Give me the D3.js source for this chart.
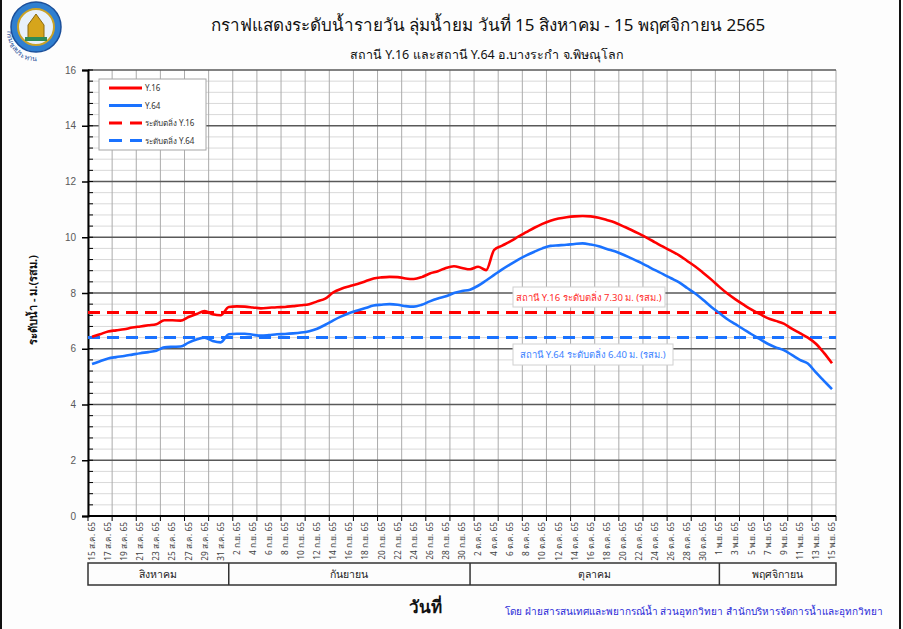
<!DOCTYPE html>
<html>
<head>
<meta charset="utf-8">
<script src="https://cdn.jsdelivr.net/npm/d3@7"></script>
<style>
  body { margin: 0; background: #fff; }
  svg { display: block; font-family: Tahoma, "Noto Sans", "DejaVu Sans", sans-serif; }
</style>
</head>
<body>
<div id="container"></div>
<script>
// Size of the whole picture
const width = 903;
const height = 629;

// Daily water level (m. above MSL), 15 Aug - 15 Nov 2565
const levelY16 = [
  6.43, 6.52, 6.62, 6.66, 6.70, 6.76, 6.80, 6.84, 6.88, 7.02,
  7.02, 7.01, 7.14, 7.25, 7.35, 7.24, 7.20, 7.50, 7.52, 7.51,
  7.48, 7.45, 7.47, 7.49, 7.50, 7.53, 7.56, 7.60, 7.70, 7.80,
  8.02, 8.15, 8.24, 8.32, 8.42, 8.52, 8.56, 8.58, 8.57, 8.52,
  8.50, 8.57, 8.70, 8.78, 8.90, 8.96, 8.90, 8.85, 8.94, 8.82,
  9.55, 9.70, 9.85, 10.02, 10.18, 10.34, 10.48, 10.59, 10.67, 10.72,
  10.75, 10.76, 10.75, 10.70, 10.62, 10.53, 10.40, 10.27, 10.13, 9.98,
  9.82, 9.66, 9.51, 9.35, 9.15, 8.95, 8.72, 8.48, 8.22, 7.98,
  7.77, 7.58, 7.40, 7.25, 7.10, 7.00, 6.90, 6.72, 6.56, 6.40,
  6.18, 5.85, 5.48
];
const levelY64 = [
  5.45, 5.55, 5.65, 5.70, 5.74, 5.79, 5.84, 5.88, 5.93, 6.05,
  6.07, 6.08, 6.22, 6.33, 6.40, 6.28, 6.23, 6.52, 6.54, 6.54,
  6.50, 6.47, 6.49, 6.52, 6.53, 6.55, 6.58, 6.63, 6.72, 6.86,
  7.02, 7.16, 7.28, 7.37, 7.46, 7.55, 7.58, 7.60, 7.58, 7.53,
  7.51, 7.58, 7.70, 7.80, 7.88, 8.00, 8.07, 8.12, 8.26, 8.45,
  8.65, 8.85, 9.03, 9.20, 9.35, 9.48, 9.60, 9.69, 9.71, 9.73,
  9.76, 9.78, 9.74, 9.68, 9.58, 9.50, 9.38, 9.25, 9.12, 8.97,
  8.82, 8.68, 8.53, 8.38, 8.18, 7.98, 7.75, 7.50, 7.28, 7.06,
  6.88, 6.70, 6.52, 6.35, 6.18, 6.05, 5.95, 5.78, 5.60, 5.47,
  5.15, 4.85, 4.55
];

// Bank full levels
const bankY16 = 7.30;
const bankY64 = 6.40;

// Tick labels, one every second day
const tickLabels = [
  "15 ส.ค. 65", "17 ส.ค. 65", "19 ส.ค. 65", "21 ส.ค. 65", "23 ส.ค. 65", "25 ส.ค. 65",
  "27 ส.ค. 65", "29 ส.ค. 65", "31 ส.ค. 65",
  "2 ก.ย. 65", "4 ก.ย. 65", "6 ก.ย. 65", "8 ก.ย. 65", "10 ก.ย. 65", "12 ก.ย. 65",
  "14 ก.ย. 65", "16 ก.ย. 65", "18 ก.ย. 65", "20 ก.ย. 65", "22 ก.ย. 65", "24 ก.ย. 65",
  "26 ก.ย. 65", "28 ก.ย. 65", "30 ก.ย. 65",
  "2 ต.ค. 65", "4 ต.ค. 65", "6 ต.ค. 65", "8 ต.ค. 65", "10 ต.ค. 65", "12 ต.ค. 65",
  "14 ต.ค. 65", "16 ต.ค. 65", "18 ต.ค. 65", "20 ต.ค. 65", "22 ต.ค. 65", "24 ต.ค. 65",
  "26 ต.ค. 65", "28 ต.ค. 65", "30 ต.ค. 65",
  "1 พ.ย. 65", "3 พ.ย. 65", "5 พ.ย. 65", "7 พ.ย. 65", "9 พ.ย. 65", "11 พ.ย. 65",
  "13 พ.ย. 65", "15 พ.ย. 65"
];

// Months shown in the band under the axis, and the day each one starts on
const monthNames = ["สิงหาคม", "กันยายน", "ตุลาคม", "พฤศจิกายน"];
const monthStart = [0, 17, 47, 78];

const yTicks = [0, 2, 4, 6, 8, 10, 12, 14, 16];

const red = "#ff0000";
const blue = "#1a72ff";

const svg = d3.select("#container")
    .append("svg")
    .attr("width", width)
    .attr("height", height);

svg.append("rect")
    .attr("width", width)
    .attr("height", height)
    .attr("fill", "#fdfdfd");

// black frame left and right
svg.append("line").attr("x1", 1).attr("x2", 1).attr("y1", 0).attr("y2", height)
    .attr("stroke", "#111").attr("stroke-width", 2);
svg.append("line").attr("x1", 900).attr("x2", 900).attr("y1", 0).attr("y2", height)
    .attr("stroke", "#111").attr("stroke-width", 2);

// Plot area
const pLeft = 88, pRight = 836, pTop = 70, pBottom = 516;
const days = d3.range(levelY16.length);

const x = d3.scalePoint()
    .domain(days)
    .range([pLeft, pRight])
    .padding(0.5);
const step = x.step();

const y = d3.scaleLinear()
    .domain([0, 16])
    .range([pBottom, pTop]);

svg.append("rect")
    .attr("x", pLeft).attr("y", pTop)
    .attr("width", pRight - pLeft).attr("height", pBottom - pTop)
    .attr("fill", "#fff");

const grid = svg.append("g");

// minor horizontal lines every 0.4 m
grid.selectAll(".minor")
    .data(d3.range(0, 16.01, 0.4).filter(v => Math.abs(v / 2 - Math.round(v / 2)) > 0.01))
    .enter()
    .append("line")
    .attr("x1", pLeft).attr("x2", pRight)
    .attr("y1", d => y(d)).attr("y2", d => y(d))
    .attr("stroke", "#d9d9d9")
    .attr("stroke-width", 1);

// vertical lines every 3 days
grid.selectAll(".vert")
    .data(d3.range(0, days.length + 1, 3))
    .enter()
    .append("line")
    .attr("x1", d => pLeft + d * step).attr("x2", d => pLeft + d * step)
    .attr("y1", pTop).attr("y2", pBottom)
    .attr("stroke", "#ababab")
    .attr("stroke-width", 1);

// major horizontal lines
grid.selectAll(".major")
    .data(yTicks)
    .enter()
    .append("line")
    .attr("x1", pLeft).attr("x2", pRight)
    .attr("y1", d => y(d)).attr("y2", d => y(d))
    .attr("stroke", "#595959")
    .attr("stroke-width", 1.6);

// Y axis
const yAxis = svg.append("g")
    .attr("transform", `translate(${pLeft},0)`)
    .call(d3.axisLeft(y).tickValues(yTicks).tickSize(6).tickPadding(6));
yAxis.select(".domain").attr("stroke", "#000").attr("stroke-width", 2);
yAxis.selectAll(".tick line").attr("stroke", "#000").attr("stroke-width", 1.5);
yAxis.selectAll("text")
    .attr("fill", "#595959")
    .style("font-size", "10px");

svg.append("g")
    .selectAll("line")
    .data(d3.range(0, 16.01, 0.4))
    .enter()
    .append("line")
    .attr("x1", pLeft).attr("x2", pLeft + 5)
    .attr("y1", d => y(d)).attr("y2", d => y(d))
    .attr("stroke", "#000")
    .attr("stroke-width", 1);

// X axis
svg.append("line")
    .attr("x1", pLeft).attr("x2", pRight)
    .attr("y1", pBottom).attr("y2", pBottom)
    .attr("stroke", "#000").attr("stroke-width", 2);

svg.append("g")
    .selectAll("line")
    .data(d3.range(0, days.length + 1, 3))
    .enter()
    .append("line")
    .attr("x1", d => pLeft + d * step).attr("x2", d => pLeft + d * step)
    .attr("y1", pBottom).attr("y2", pBottom + 5)
    .attr("stroke", "#000")
    .attr("stroke-width", 1);

svg.append("g")
    .selectAll("text")
    .data(tickLabels)
    .enter()
    .append("text")
    .attr("transform", (d, i) => `translate(${x(i * 2) + 3},${pBottom + 6}) rotate(-90)`)
    .attr("text-anchor", "end")
    .attr("fill", "#404040")
    .style("font-size", "8.3px")
    .text(d => d);

// Month band
const band = svg.append("g");
band.append("rect")
    .attr("x", pLeft).attr("y", 563)
    .attr("width", pRight - pLeft).attr("height", 22)
    .attr("fill", "none")
    .attr("stroke", "#333")
    .attr("stroke-width", 1.5);

band.selectAll("line")
    .data(monthStart.slice(1))
    .enter()
    .append("line")
    .attr("x1", d => x(d)).attr("x2", d => x(d))
    .attr("y1", 563).attr("y2", 585)
    .attr("stroke", "#333")
    .attr("stroke-width", 1.5);

band.selectAll("text")
    .data(monthNames)
    .enter()
    .append("text")
    .attr("x", (d, i) => {
        const a = i == 0 ? pLeft : x(monthStart[i]);
        const b = i == monthNames.length - 1 ? pRight : x(monthStart[i + 1]);
        return (a + b) / 2;
    })
    .attr("y", 578)
    .attr("text-anchor", "middle")
    .attr("fill", "#222")
    .style("font-size", "10.5px")
    .text(d => d);

// Bank level dashed lines
[[bankY16, red], [bankY64, blue]].forEach(([v, c]) => {
    svg.append("line")
        .attr("x1", pLeft).attr("x2", pRight)
        .attr("y1", y(v)).attr("y2", y(v))
        .attr("stroke", c)
        .attr("stroke-width", 3)
        .attr("stroke-dasharray", "12,7");
});

// Water level lines
const line = d3.line()
    .x((d, i) => x(i))
    .y(d => y(d))
    .curve(d3.curveMonotoneX);

[[levelY16, red], [levelY64, blue]].forEach(([data, c]) => {
    svg.append("path")
        .datum(data)
        .attr("fill", "none")
        .attr("stroke", c)
        .attr("stroke-width", 2.6)
        .attr("stroke-linejoin", "round")
        .attr("d", line);
});

// Bank level notes
const notes = [
    { text: "สถานี Y.16  ระดับตลิ่ง 7.30 ม. (รสม.)", color: "#ff2a2a", x: 513, y: 287, w: 152, h: 20 },
    { text: "สถานี Y.64  ระดับตลิ่ง 6.40 ม. (รสม.)", color: "#3a7fff", x: 513, y: 344, w: 160, h: 21 }
];
notes.forEach(n => {
    svg.append("rect")
        .attr("x", n.x).attr("y", n.y)
        .attr("width", n.w).attr("height", n.h)
        .attr("fill", "#fff")
        .attr("stroke", "#d0d0d0");
    svg.append("text")
        .attr("x", n.x + n.w / 2).attr("y", n.y + n.h / 2 + 3.5)
        .attr("text-anchor", "middle")
        .attr("fill", n.color)
        .style("font-size", "9.5px")
        .text(n.text);
});

// Legend
const legend = svg.append("g").attr("transform", "translate(99,79)");
legend.append("rect")
    .attr("width", 107).attr("height", 71)
    .attr("fill", "#fff")
    .attr("stroke", "#a6a6a6");

const legendItems = [
    { name: "Y.16", color: red, dash: null },
    { name: "Y.64", color: blue, dash: null },
    { name: "ระดับตลิ่ง Y.16", color: red, dash: "13,8" },
    { name: "ระดับตลิ่ง Y.64", color: blue, dash: "13,8" }
];
legendItems.forEach((d, i) => {
    const ly = 9 + i * 17.5;
    legend.append("line")
        .attr("x1", 10).attr("x2", 43)
        .attr("y1", ly).attr("y2", ly)
        .attr("stroke", d.color)
        .attr("stroke-width", 3)
        .attr("stroke-dasharray", d.dash);
    legend.append("text")
        .attr("x", 46).attr("y", ly + 3)
        .attr("fill", "#333")
        .style("font-size", "8px")
        .text(d.name);
});

// Titles
svg.append("text")
    .attr("x", 488).attr("y", 31)
    .attr("text-anchor", "middle")
    .attr("fill", "#111")
    .style("font-size", "17px")
    .text("กราฟแสดงระดับน้ำรายวัน ลุ่มน้ำยม วันที่ 15 สิงหาคม - 15 พฤศจิกายน 2565");

svg.append("text")
    .attr("x", 487).attr("y", 59)
    .attr("text-anchor", "middle")
    .attr("fill", "#111")
    .style("font-size", "12.5px")
    .text("สถานี Y.16 และสถานี Y.64 อ.บางระกำ จ.พิษณุโลก");

svg.append("text")
    .attr("transform", "translate(37,300) rotate(-90)")
    .attr("text-anchor", "middle")
    .attr("fill", "#111")
    .style("font-size", "11px")
    .style("font-weight", "bold")
    .text("ระดับน้ำ - ม.(รสม.)");

svg.append("text")
    .attr("x", 425).attr("y", 613)
    .attr("text-anchor", "middle")
    .attr("fill", "#111")
    .style("font-size", "17px")
    .style("font-weight", "bold")
    .text("วันที่");

svg.append("text")
    .attr("x", 505).attr("y", 615)
    .attr("fill", "#2a2ad8")
    .style("font-size", "10px")
    .text("โดย ฝ่ายสารสนเทศและพยากรณ์น้ำ ส่วนอุทกวิทยา สำนักบริหารจัดการน้ำและอุทกวิทยา");

// Department logo (simple emblem)
const logo = svg.append("g").attr("transform", "translate(36,27)");
logo.append("circle").attr("r", 25).attr("fill", "#2f7fd0").attr("stroke", "#1b4f9a").attr("stroke-width", 1.5);
logo.append("circle").attr("r", 18).attr("fill", "#e8f1fb").attr("stroke", "#c9a227").attr("stroke-width", 2);
logo.append("path").attr("d", "M-8,11 L-8,-2 L0,-13 L8,-2 L8,11 Z").attr("fill", "#d6a51c").attr("stroke", "#8a6a10");
logo.append("rect").attr("x", -11).attr("y", 10).attr("width", 22).attr("height", 4).attr("fill", "#2e8b57");
logo.append("path").attr("id", "logoArc").attr("d", "M-29,4 A29,29 0 0 0 22,24").attr("fill", "none");
logo.append("text")
    .style("font-size", "7px")
    .attr("fill", "#1b4f9a")
    .append("textPath")
    .attr("href", "#logoArc")
    .text("กรมชลประทาน");
</script>
</body>
</html>
